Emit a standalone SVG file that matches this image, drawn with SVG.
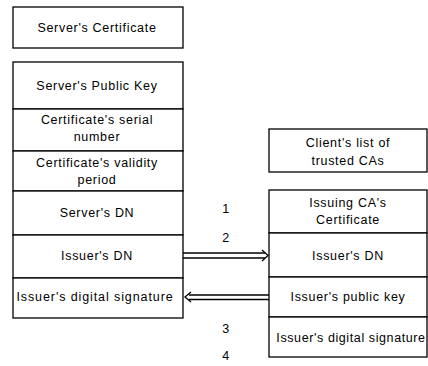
<svg xmlns="http://www.w3.org/2000/svg" width="428" height="366" viewBox="0 0 428 366">
<style>
.box{fill:#fff;stroke:#000;stroke-width:1.3}
.t{font-family:"Liberation Sans",Arial,sans-serif;font-size:12.5px;fill:#000;text-anchor:middle;letter-spacing:0.7px}
.ln{stroke:#000;stroke-width:1.3;fill:none}
</style>
<rect width="428" height="366" fill="#fff"/>
<g id="servers-certificate">
<rect class="box" x="13" y="7" width="170" height="41"/>
<text class="t" x="97" y="32">Server's Certificate</text>
</g>
<g id="server-public-key">
<rect class="box" x="13" y="62" width="170" height="47"/>
<text class="t" x="97" y="90">Server's Public Key</text>
</g>
<g id="cert-serial">
<rect class="box" x="13" y="109" width="170" height="42"/>
<text class="t" x="97" y="124">Certificate's serial</text>
<text class="t" x="97" y="141">number</text>
</g>
<g id="cert-validity">
<rect class="box" x="13" y="151" width="170" height="40"/>
<text class="t" x="97" y="167">Certificate's validity</text>
<text class="t" x="97" y="184">period</text>
</g>
<g id="server-dn">
<rect class="box" x="13" y="191" width="170" height="44"/>
<text class="t" x="97" y="217">Server's DN</text>
</g>
<g id="left-issuer-dn">
<rect class="box" x="13" y="235" width="170" height="43"/>
<text class="t" x="97" y="260">Issuer's DN</text>
</g>
<g id="left-issuer-signature">
<rect class="box" x="13" y="278" width="170" height="40"/>
<text class="t" x="95" y="301" style="letter-spacing:0.9px">Issuer's digital signature</text>
</g>
<g id="client-trusted-cas">
<rect class="box" x="269" y="129" width="158" height="43"/>
<text class="t" x="348" y="147">Client's list of</text>
<text class="t" x="348" y="165">trusted CAs</text>
</g>
<g id="issuing-ca-cert">
<rect class="box" x="269" y="190" width="158" height="43"/>
<text class="t" x="348" y="207">Issuing CA's</text>
<text class="t" x="348" y="224">Certificate</text>
</g>
<g id="right-issuer-dn">
<rect class="box" x="269" y="233" width="158" height="44"/>
<text class="t" x="348" y="260">Issuer's DN</text>
</g>
<g id="right-issuer-public-key">
<rect class="box" x="269" y="277" width="158" height="40"/>
<text class="t" x="348" y="301">Issuer's public key</text>
</g>
<g id="right-issuer-signature">
<rect class="box" x="269" y="317" width="158" height="40"/>
<text class="t" x="351" y="342" style="letter-spacing:0.6px">Issuer's digital signature</text>
</g>
<g id="labels">
<text class="t" x="226" y="213">1</text>
<text class="t" x="226" y="242">2</text>
<text class="t" x="226" y="333">3</text>
<text class="t" x="226" y="360">4</text>
</g>
<g id="connectors">
<line class="ln" x1="183" y1="253" x2="265" y2="253"/>
<line class="ln" x1="183" y1="258" x2="265" y2="258"/>
<polyline class="ln" points="262,250 268,255.5 262,261"/>
<line class="ln" x1="189" y1="295" x2="269" y2="295"/>
<line class="ln" x1="189" y1="299.5" x2="269" y2="299.5"/>
<polyline class="ln" points="191,292 185,297 191,302"/>
</g>
</svg>
